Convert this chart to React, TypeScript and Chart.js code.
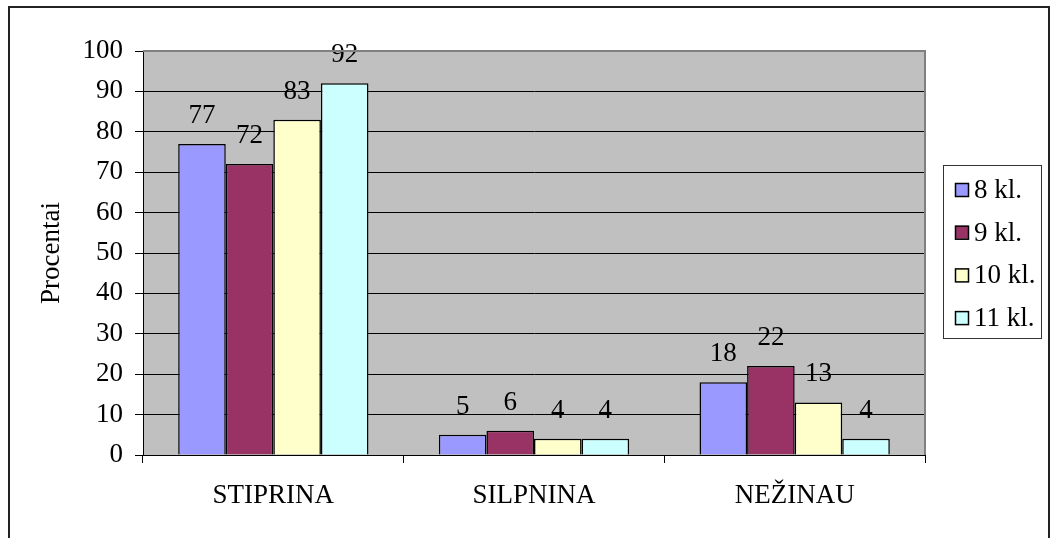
import React, { useEffect, useRef } from "react";
import { Chart, registerables } from "chart.js";

Chart.register(...registerables);

const categories = ["STIPRINA", "SILPNINA", "NEŽINAU"];
const seriesLabels = ["8 kl.", "9 kl.", "10 kl.", "11 kl."];
const series8 = [77, 5, 18];
const series9 = [72, 6, 22];
const series10 = [83, 4, 13];
const series11 = [92, 4, 4];
const seriesColors = ["#9999FF", "#993366", "#FFFFCC", "#CCFFFF"];
const yMin = 0;
const yMax = 100;
const yStep = 10;
const yTitle = "Procentai";

const FONT = "'Liberation Serif', 'Times New Roman', serif";
const FS = 27;

const framePlugin = {
  id: "frame",
  beforeDraw(chart: any) {
    const { ctx, chartArea } = chart;
    ctx.save();
    ctx.fillStyle = "#FFFFFF";
    ctx.fillRect(0, 0, chart.width, chart.height);
    ctx.fillStyle = "#C0C0C0";
    ctx.fillRect(chartArea.left, chartArea.top, chartArea.right - chartArea.left, chartArea.bottom - chartArea.top);
    ctx.restore();
  },
  afterDraw(chart: any) {
    const { ctx, chartArea } = chart;
    ctx.save();
    ctx.strokeStyle = "#808080";
    ctx.lineWidth = 2;
    ctx.beginPath();
    ctx.moveTo(chartArea.left, chartArea.top);
    ctx.lineTo(chartArea.right, chartArea.top);
    ctx.lineTo(chartArea.right, chartArea.bottom);
    ctx.stroke();
    ctx.strokeStyle = "#222222";
    ctx.lineWidth = 2;
    ctx.strokeRect(9, 7, 1040, 560);
    ctx.strokeStyle = "#333333";
    ctx.lineWidth = 1;
    ctx.strokeRect(943.5, 165.5, 98, 173);
    ctx.font = `${FS}px ${FONT}`;
    ctx.textBaseline = "middle";
    ctx.textAlign = "left";
    chart.data.datasets.forEach((ds: any, i: number) => {
      const cy = 190 + i * 42.7;
      ctx.fillStyle = ds.backgroundColor;
      ctx.fillRect(955, cy - 7, 13, 13);
      ctx.strokeStyle = "#000";
      ctx.lineWidth = 1.5;
      ctx.strokeRect(955.5, cy - 6.5, 13, 13);
      ctx.fillStyle = "#000";
      ctx.fillText(ds.label, 974, cy + 1);
    });
    ctx.restore();
  },
};

const labelPlugin = {
  id: "valueLabels",
  afterDatasetsDraw(chart: any) {
    const { ctx } = chart;
    ctx.save();
    ctx.font = `${FS}px ${FONT}`;
    ctx.fillStyle = "#000";
    ctx.textAlign = "center";
    ctx.textBaseline = "alphabetic";
    chart.data.datasets.forEach((ds: any, i: number) => {
      const meta = chart.getDatasetMeta(i);
      meta.data.forEach((el: any, j: number) => {
        ctx.fillText(String(ds.data[j]), el.x, el.y - 21);
      });
    });
    ctx.restore();
  },
};

export default function App() {
  const ref = useRef<HTMLCanvasElement>(null);
  useEffect(() => {
    if (!ref.current) return;
    const all = [series8, series9, series10, series11];
    const chart = new Chart(ref.current, {
      type: "bar",
      data: {
        labels: categories,
        datasets: all.map((d, i) => ({
          label: seriesLabels[i],
          data: d,
          backgroundColor: seriesColors[i],
          borderColor: "#000000",
          borderWidth: 1.5,
          categoryPercentage: 0.73,
          barPercentage: 1,
        })),
      },
      options: {
        responsive: false,
        animation: false,
        devicePixelRatio: 1,
        layout: { padding: { left: 0, top: 51, right: 126, bottom: 0 } },
        plugins: {
          legend: { display: false },
          tooltip: { enabled: false },
          title: { display: false },
        },
        scales: {
          x: {
            offset: true,
            grid: {
              display: true,
              offset: true,
              drawOnChartArea: false,
              drawTicks: true,
              tickLength: 8,
              tickColor: "#000",
              color: "#000",
            },
            border: { display: true, color: "#000", width: 1 },
            ticks: { color: "#000", font: { family: FONT, size: FS }, padding: 17, maxRotation: 0 },
            afterFit(scale: any) {
              scale.height = 83;
            },
          },
          y: {
            min: yMin,
            max: yMax,
            ticks: { stepSize: yStep, color: "#000", font: { family: FONT, size: FS }, padding: 12 },
            grid: {
              color: (c: any) => (c.tick && c.tick.value === yMax ? "#808080" : "#000"),
              tickColor: "#000",
              tickLength: 8,
              lineWidth: 1,
            },
            border: { display: true, color: "#000", width: 1 },
            title: {
              display: true,
              text: yTitle,
              color: "#000",
              font: { family: FONT, size: FS },
              padding: { top: 36, bottom: 0 },
            },
            afterFit(scale: any) {
              scale.width = 143;
            },
          },
        },
      },
      plugins: [framePlugin, labelPlugin],
    });
    return () => chart.destroy();
  }, []);
  return (
    <div style={{ position: "absolute", left: 0, top: 0, width: 1051, height: 538, background: "#fff" }}>
      <canvas ref={ref} width={1051} height={538} style={{ width: 1051, height: 538, display: "block" }} />
    </div>
  );
}
